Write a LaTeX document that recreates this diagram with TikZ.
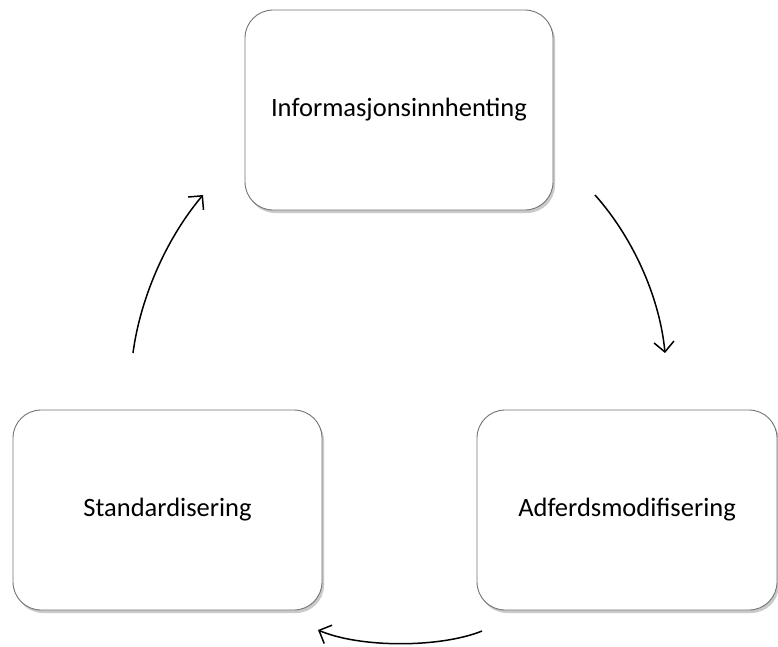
\documentclass[tikz,border=0pt]{standalone}
\usepackage{fontspec}
\setmainfont{Carlito}
\usetikzlibrary{shadows,arrows.meta}
\begin{document}
\begin{tikzpicture}[x=1pt,y=-1pt,
  box/.style={draw=black!55, line width=0.9pt, fill=white, rounded corners=28pt,
    minimum width=308pt, minimum height=200pt, inner sep=0pt,
    font=\fontsize{26.5}{30}\selectfont,
    drop shadow={shadow xshift=2pt, shadow yshift=-3pt, opacity=0.35, fill=black!60}},
  flow/.style={line width=1.5pt, -{Straight Barb[length=10pt,width=20pt,line width=1.5pt]}}]
\useasboundingbox (0,0) rectangle (778,646);
\node[box] (info) at (399,110) {Informasjonsinnhenting};
\node[box, minimum width=300pt] (adf) at (627,510) {Adferdsmodifisering};
\node[box, minimum width=309pt] (std) at (167.5,510) {Standardisering};
\coordinate (a1s) at (595,195);
\coordinate (a1e) at (665,353);
\coordinate (a2s) at (482,631);
\coordinate (a2e) at (318,630);
\coordinate (a3s) at (133,353);
\coordinate (a3e) at (203,195);
\draw[flow] (a1s) .. controls (635,240) and (660,300) .. (a1e);
\draw[flow] (a2s) .. controls (440,648) and (360,648) .. (a2e);
\draw[flow] (a3s) .. controls (140,300) and (165,240) .. (a3e);
\end{tikzpicture}
\end{document}
